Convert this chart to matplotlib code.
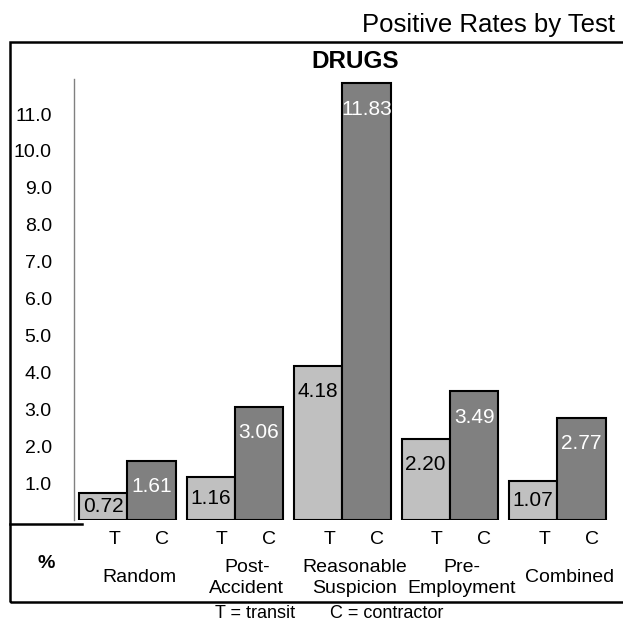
import matplotlib
matplotlib.use("Agg")
import matplotlib.pyplot as plt # For plotting
import numpy as np # For numerical operations
from matplotlib import font_manager
from matplotlib.transforms import blended_transform_factory
from matplotlib.patches import Rectangle
from matplotlib.lines import Line2D

# Data
categories = ["Random", "Post-\nAccident", "Reasonable\nSuspicion", "Pre-\nEmployment", "Combined"]
transit = [0.72, 1.16, 4.18, 2.20, 1.07]
contractor = [1.61, 3.06, 11.83, 3.49, 2.77]
y_ticks = [1, 2, 3, 4, 5, 6, 7, 8, 9, 10, 11]

# Pick a narrow font if present
names = {f.name for f in font_manager.fontManager.ttflist}
NARROW = 'Liberation Sans Narrow' if 'Liberation Sans Narrow' in names else 'Liberation Sans'
BOLD = 'Liberation Sans'
plt.rcParams['font.family'] = [NARROW, 'DejaVu Sans']

LIGHT = "#C0C0C0" # transit bars
DARK = "#808080" # contractor bars
W, H = 623, 624 # figure size in pixels

fig = plt.figure(figsize=(W / 100, H / 100), dpi=100) # Create figure
fig.patch.set_facecolor("white")

# Plot area (pixel box -> figure fractions)
left_px, top_px, bottom_px = 74, 79, 520
ax = fig.add_axes([left_px / W, 1 - bottom_px / H, 1 - left_px / W, (bottom_px - top_px) / H])
x = np.arange(len(categories))
bw = 0.45
ax.bar(x - bw / 2, transit, bw, color=LIGHT, edgecolor="black", linewidth=1.5, zorder=3)
ax.bar(x + bw / 2, contractor, bw, color=DARK, edgecolor="black", linewidth=1.5, zorder=3)
ax.set_xlim(-0.497, 4.61)
ax.set_ylim(0, 11.95)

# Value labels inside bars
for xi, v in zip(x - bw / 2, transit):
    ax.text(xi, max(v - 0.70, v / 2), f"{v:.2f}", ha="center", va="center", fontsize=15, color="black", zorder=4)
for xi, v in zip(x + bw / 2, contractor):
    ax.text(xi, max(v - 0.70, v / 2), f"{v:.2f}", ha="center", va="center", fontsize=15, color="white", zorder=4)

# Axis styling
ax.set_yticks(y_ticks)
ax.set_yticklabels([f"{t:.1f}" for t in y_ticks], fontsize=14)
ax.tick_params(axis="y", length=0, pad=16)
ax.set_xticks([])
for s in ["top", "right", "bottom"]:
    ax.spines[s].set_visible(False)
ax.spines["left"].set_color("#808080")
ax.spines["left"].set_linewidth(1)

# Table-style labels below the plot
tr = blended_transform_factory(ax.transData, fig.transFigure)
for xi, cat in zip(x, categories):
    ax.text(xi - 0.12, 1 - 539 / H, "T", transform=tr, ha="center", va="center", fontsize=14)
    ax.text(xi + 0.32, 1 - 539 / H, "C", transform=tr, ha="center", va="center", fontsize=14)
    ax.text(xi + 0.11, 1 - 578 / H, cat, transform=tr, ha="center", va="center", fontsize=14, linespacing=1.25)

fig.text(46 / W, 1 - 564 / H, "%", ha="center", va="center", fontsize=14, fontweight="bold", family=BOLD)
fig.text(255 / W, 1 - 614 / H, "T = transit", ha="center", va="center", fontsize=13)
fig.text(330 / W, 1 - 614 / H, "C = contractor", ha="left", va="center", fontsize=13)

# Titles
fig.text(362 / W, 1 - 32 / H, "Positive Rates by Test", ha="left", va="baseline", fontsize=18.5)
fig.text(355 / W, 1 - 61 / H, "DRUGS", ha="center", va="center", fontsize=17.5, fontweight="bold", family=BOLD)

# Outer box and short table line
fig.patches.append(Rectangle((10 / W, 1 - 602 / H), 1.5, (602 - 42) / H, transform=fig.transFigure,
                             fill=False, edgecolor="black", linewidth=1.8))
fig.lines.append(Line2D([10 / W, 82 / W], [1 - 524 / H, 1 - 524 / H], transform=fig.transFigure,
                        color="black", linewidth=1.8))

plt.savefig("out.png", dpi=100) # Save figure
